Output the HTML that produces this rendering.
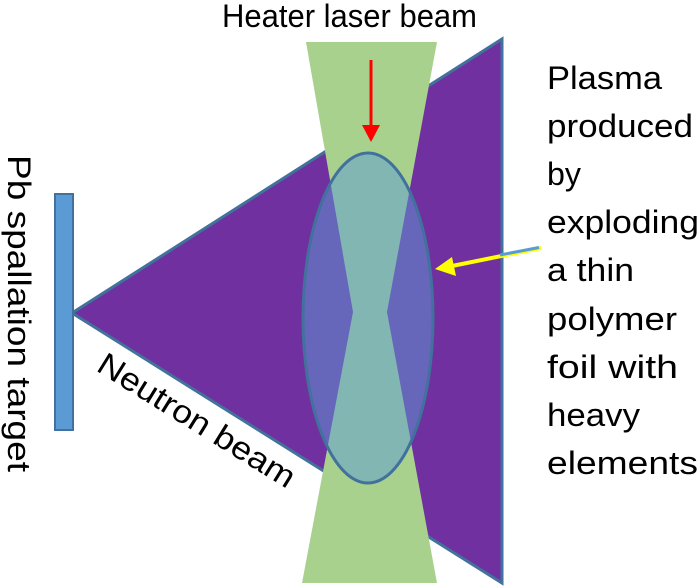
<!DOCTYPE html>
<html>
<head>
<meta charset="utf-8">
<style>
  html,body{margin:0;padding:0;background:#fff;}
  svg{display:block;}
  text{font-family:"Liberation Sans", Arial, sans-serif; fill:#000;}
</style>
</head>
<body>
<svg width="700" height="588" viewBox="0 0 700 588" xmlns="http://www.w3.org/2000/svg">
  <!-- Neutron beam triangle -->
  <polygon points="72,313 502,39 502,583" fill="#7030a0" stroke="#41719c" stroke-width="3" stroke-linejoin="miter"/>
  <!-- Heater laser hourglass -->
  <polygon points="306,42 437,42 387,312 437,583 302,583 353,312" fill="#a9d18e"/>
  <!-- Plasma ellipse -->
  <ellipse cx="368" cy="318" rx="65" ry="165" fill="#5b9bd5" fill-opacity="0.5" stroke="#41719c" stroke-width="3"/>
  <!-- Pb target -->
  <rect x="55" y="194" width="18" height="236" fill="#5b9bd5" stroke="#41719c" stroke-width="2"/>
  <!-- Red arrow -->
  <line x1="371" y1="60" x2="371" y2="127" stroke="#ff0000" stroke-width="3"/>
  <polygon points="362,125 380,125 371,142" fill="#ff0000"/>
  <!-- Yellow arrow -->
  <line x1="541" y1="248" x2="452" y2="266" stroke="#ffff00" stroke-width="4"/>
  <line x1="539" y1="247.5" x2="500" y2="255" stroke="#5b9bd5" stroke-width="3"/>
  <polygon points="435,269 452,257 456,276" fill="#ffff00"/>
  <!-- Labels -->
  <text x="222" y="27" font-size="32" textLength="255" lengthAdjust="spacingAndGlyphs">Heater laser beam</text>
  <text x="95" y="370" font-size="32" textLength="226" lengthAdjust="spacingAndGlyphs" transform="rotate(31.8 95 370)">Neutron beam</text>
  <text transform="translate(8,155) rotate(90)" x="0" y="0" font-size="32" textLength="317" lengthAdjust="spacingAndGlyphs">Pb spallation target</text>
  <g font-size="32">
    <text x="547" y="89" textLength="115" lengthAdjust="spacingAndGlyphs">Plasma</text>
    <text x="547" y="137" textLength="146" lengthAdjust="spacingAndGlyphs">produced</text>
    <text x="547" y="185" textLength="34" lengthAdjust="spacingAndGlyphs">by</text>
    <text x="547" y="233" textLength="152" lengthAdjust="spacingAndGlyphs">exploding</text>
    <text x="547" y="281" textLength="87" lengthAdjust="spacingAndGlyphs">a thin</text>
    <text x="547" y="330" textLength="130" lengthAdjust="spacingAndGlyphs">polymer</text>
    <text x="547" y="378" textLength="131" lengthAdjust="spacingAndGlyphs">foil with</text>
    <text x="547" y="426" textLength="93" lengthAdjust="spacingAndGlyphs">heavy</text>
    <text x="547" y="474" textLength="151" lengthAdjust="spacingAndGlyphs">elements</text>
  </g>
</svg>
</body>
</html>
